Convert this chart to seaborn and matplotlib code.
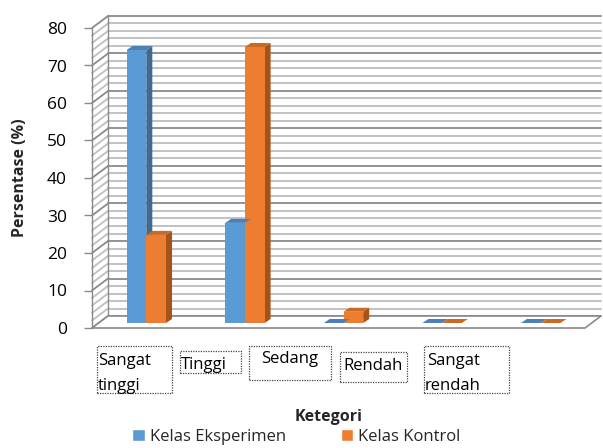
import numpy as np
import pandas as pd
import matplotlib
matplotlib.use("Agg")
import matplotlib.pyplot as plt
import matplotlib.transforms as mtransforms
from matplotlib.patches import Polygon, Patch, Rectangle
import seaborn as sns

categories = ["Sangat\ntinggi", "Tinggi", "Sedang", "Rendah", "Sangat\nrendah"]
kelas_eksperimen = [72.8, 26.7, 0.0, 0.0, 0.0]
kelas_kontrol = [23.5, 73.6, 3.0, 0.0, 0.0]
series_names = ["Kelas Eksperimen", "Kelas Kontrol"]
yticks = [0, 10, 20, 30, 40, 50, 60, 70, 80]

front_cols = ["#5B9BD5", "#ED7D31"]
top_cols = ["#4B80B9", "#CC6A24"]
side_cols = ["#3E6B96", "#A4531B"]

df = pd.DataFrame({
    "cat": categories * 2,
    "val": kelas_eksperimen + kelas_kontrol,
    "ser": [series_names[0]] * 5 + [series_names[1]] * 5,
})

sns.set_theme(style="white")
plt.rcParams["font.family"] = ["Open Sans", "DejaVu Sans"]

W, H = 603, 448
fig = plt.figure(figsize=(W / 100, H / 100), dpi=100)
# front frame: x 92..585 px, y(0)=328 px, y(80)=28 px (from top)
ax = fig.add_axes([92 / W, (H - 328) / H, (585 - 92) / W, 300 / H])
ax.set_xlim(-0.5, 4.5)
ax.set_ylim(0, 80)
for s in ax.spines.values():
    s.set_visible(False)
ax.set_facecolor("none")

DX, DY = 16, 12  # depth of the 3D box in px
BX, BY = 5, 5    # bar front offset
BDX, BDY = 6, 4  # bar depth

idT = mtransforms.IdentityTransform()
back = mtransforms.offset_copy(ax.transData, fig=fig, x=DX, y=DY, units="dots")
grid_col_minor = "#C2C2C2"
grid_col_major = "#8A8A8A"

# back wall grid + side wall slants
for v in np.arange(0, 80.1, 2):
    major = (int(round(v)) % 10 == 0)
    c = grid_col_major if major else grid_col_minor
    lw = 1.3 if major else 1.4
    ax.plot([-0.5, 4.5], [v, v], color=c, lw=lw, transform=back, clip_on=False, zorder=1)
    p0 = ax.transData.transform((-0.5, v))
    ax.plot([p0[0], p0[0] + DX], [p0[1], p0[1] + DY], color=c, lw=lw,
            transform=idT, clip_on=False, zorder=1)
# back wall left vertical
ax.plot([-0.5, -0.5], [0, 80], color=grid_col_major, lw=1.0, transform=back, clip_on=False, zorder=1)
# floor parallelogram
f0 = ax.transData.transform((-0.5, 0))
f1 = ax.transData.transform((4.5, 0))
floor = Polygon([f0, f1, (f1[0] + DX, f1[1] + DY), (f0[0] + DX, f0[1] + DY)], closed=True,
                facecolor="white", edgecolor="#8A8A8A", lw=1.2,
                transform=idT, clip_on=False, zorder=1.5)
ax.add_patch(floor)
# front axis line
ax.plot([-0.5, -0.5], [0, 80], color="#8A8A8A", lw=1.0, clip_on=False, zorder=2)

# bars via seaborn
sns.barplot(data=df, x="cat", y="val", hue="ser", palette=front_cols, width=0.4,
            dodge=True, ax=ax, legend=False, saturation=1, edgecolor="none", zorder=3)
ax.set_xlim(-0.5, 4.5)
ax.set_ylim(0, 80)

barshift = mtransforms.offset_copy(ax.transData, fig=fig, x=BX, y=BY, units="dots")
for p in list(ax.patches):
    if p is floor:
        continue
    fc = p.get_facecolor()
    hi = 0 if np.allclose(fc[:3], matplotlib.colors.to_rgb(front_cols[0]), atol=0.02) else 1
    x0, w, h = p.get_x(), p.get_width(), p.get_height()
    p.set_transform(barshift)
    p.set_clip_on(False)
    a = ax.transData.transform((x0, 0)) + (BX, BY)
    b = ax.transData.transform((x0 + w, h)) + (BX, BY)
    side = Polygon([(b[0], a[1]), (b[0] + BDX, a[1] + BDY), (b[0] + BDX, b[1] + BDY), (b[0], b[1])],
                   closed=True, facecolor=side_cols[hi], edgecolor="none", transform=idT,
                   clip_on=False, zorder=2.9)
    top = Polygon([(a[0], b[1]), (b[0], b[1]), (b[0] + BDX, b[1] + BDY), (a[0] + BDX, b[1] + BDY)],
                  closed=True, facecolor=top_cols[hi], edgecolor="none", transform=idT,
                  clip_on=False, zorder=3.1)
    ax.add_patch(side)
    ax.add_patch(top)

# y ticks
ax.set_yticks(yticks)
ax.set_yticklabels([str(t) for t in yticks], fontsize=12.5, color="#000000")
ax.tick_params(axis="y", length=6, width=1, color="#8A8A8A", pad=12, left=True)
ax.set_xticks([])
ax.set_xlabel("")
ax.set_ylabel("Persentase (%)", fontsize=11.5, fontweight="bold", labelpad=14)

# category labels in dotted boxes (Excel-style, misaligned); text y = top line's baseline
boxes = [(97, 346, 172, 393), (180, 351, 241, 373), (249, 346, 331, 380),
         (340, 352, 407, 382), (424, 346, 509, 393)]
text_pos = [(98, 365, "left"), (181, 369, "left"), (290, 363, "center"),
            (373, 370, "center"), (427, 365, "left")]
LINE = 25  # px between baselines
for (x0, y0, x1, y1), (tx, ty, ha), lab in zip(boxes, text_pos, categories):
    fig.patches.append(Rectangle((x0, H - y1), x1 - x0, y1 - y0, transform=idT,
                                 facecolor="white", edgecolor="#444444", lw=0.9,
                                 linestyle=(0, (1, 1)), figure=fig, zorder=1))
    for k, line in enumerate(lab.split("\n")):
        lx = tx if k == 0 else x0 + 1
        fig.text(lx / W, 1 - (ty + k * LINE) / H, line, fontsize=12, ha=ha, va="baseline",
                 color="black", zorder=2)

fig.text(329 / W, 1 - 421 / H, "Ketegori", fontsize=11.5, fontweight="bold",
         ha="center", va="baseline")

handles = [Patch(facecolor=front_cols[0]), Patch(facecolor=front_cols[1])]
fig.legend(handles, series_names, loc="center left", bbox_to_anchor=(124 / W, 1 - 437 / H),
           ncol=2, frameon=False, fontsize=12, handlelength=0.75, handleheight=0.75,
           handletextpad=0.3, columnspacing=3.3, borderpad=0)

fig.savefig("out.png", dpi=100)
